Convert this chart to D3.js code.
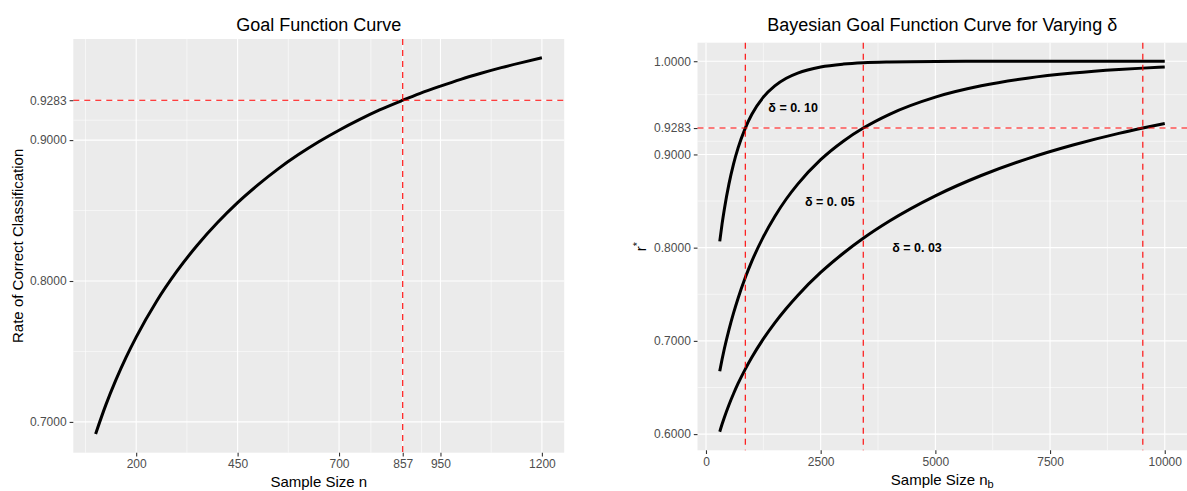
<!DOCTYPE html>
<html>
<head>
<meta charset="utf-8">
<script src="https://cdn.jsdelivr.net/npm/d3@7"></script>
<style>
  body { margin: 0; background: #ffffff; }
  svg { display: block; }
  text { font-family: "Liberation Sans", Arial, Helvetica, sans-serif; }
</style>
</head>
<body>
<svg id="chart" width="1187" height="491"></svg>
<script>
// ---- Goal function curve (rate of correct classification vs. n) ----
const sampleSizes = [100, 125, 150, 175, 200, 250, 300, 350, 400, 450, 500, 550, 600,
                     650, 700, 750, 800, 857, 900, 950, 1000, 1050, 1100, 1150, 1200];
const correctRates = [0.6915, 0.7119, 0.7298, 0.7458, 0.7602, 0.7855, 0.8068, 0.8252,
                      0.8413, 0.8556, 0.8682, 0.8796, 0.8897, 0.8988, 0.9070, 0.9145,
                      0.9214, 0.9283, 0.9332, 0.9383, 0.9431, 0.9474, 0.9514, 0.9550, 0.9584];

// ---- Bayesian goal function curves, one per delta ----
const bayesSizes = [300, 350, 400, 500, 600, 700, 857, 1000, 1250, 1500, 1750, 2000,
                    2500, 3000, 3428, 4000, 5000, 6000, 7000, 8000, 9000, 9522, 10000];
const rDelta10 = [0.8068, 0.8252, 0.8413, 0.8682, 0.8897, 0.9070, 0.9283, 0.9431, 0.9615,
                  0.9736, 0.9818, 0.9873, 0.9938, 0.9969, 0.9983, 0.9992, 0.9998, 0.9999,
                  1.0000, 1.0000, 1.0000, 1.0000, 1.0000];
const rDelta05 = [0.6675, 0.6800, 0.6915, 0.7119, 0.7298, 0.7458, 0.7679, 0.7855, 0.8116,
                  0.8335, 0.8522, 0.8682, 0.8944, 0.9145, 0.9283, 0.9431, 0.9615, 0.9736,
                  0.9818, 0.9873, 0.9911, 0.9926, 0.9938];
const rDelta03 = [0.6025, 0.6105, 0.6179, 0.6313, 0.6433, 0.6543, 0.6697, 0.6824, 0.7021,
                  0.7194, 0.7348, 0.7488, 0.7734, 0.7943, 0.8101, 0.8286, 0.8556, 0.8774,
                  0.8953, 0.9101, 0.9226, 0.9283, 0.9332];

const deltaLabels = ["δ = 0. 10", "δ = 0. 05", "δ = 0. 03"];
const deltaLabelN = [1900, 2700, 4600];
const deltaLabelR = [0.95, 0.85, 0.80];

// Goal rate and the sample sizes that reach it
const goalRate = 0.9283;
const goalN = [857];
const bayesGoalN = [857, 3428, 9522];

// Axis breaks
const leftXTicks = [200, 450, 700, 857, 950, 1200];
const leftXMinor = [75, 325, 575, 778.5, 903.5, 1075];
const leftYTicks = [0.7, 0.8, 0.9, 0.9283];
const leftYMinor = [0.75, 0.85, 0.91415];
const rightXTicks = [0, 2500, 5000, 7500, 10000];
const rightXMinor = [1250, 3750, 6250, 8750];
const rightYTicks = [0.6, 0.7, 0.8, 0.9, 0.9283, 1.0];
const rightYMinor = [0.65, 0.75, 0.85, 0.91415, 0.96415];

const svg = d3.select("#chart");

// continuous range padded by 5% on each side
function expand(values) {
  const [lo, hi] = d3.extent(values);
  const pad = (hi - lo) * 0.05;
  return [lo - pad, hi + pad];
}

function drawPanel(cfg) {
  const { left, right, top, bottom } = cfg.box;
  const x = d3.scaleLinear().domain(expand(cfg.xData)).range([left, right]);
  const y = d3.scaleLinear().domain(expand(cfg.yData)).range([bottom, top]);
  const g = svg.append("g");

  // panel background
  g.append("rect").attr("x", left).attr("y", top)
    .attr("width", right - left).attr("height", bottom - top)
    .attr("fill", "#EBEBEB");

  // grid lines
  const grid = g.append("g").attr("stroke", "#ffffff").attr("fill", "none");
  cfg.yMinor.forEach(v => grid.append("line")
    .attr("x1", left).attr("x2", right).attr("y1", y(v)).attr("y2", y(v))
    .attr("stroke-width", 0.55));
  cfg.xMinor.forEach(v => grid.append("line")
    .attr("y1", top).attr("y2", bottom).attr("x1", x(v)).attr("x2", x(v))
    .attr("stroke-width", 0.55));
  cfg.yTicks.forEach(v => grid.append("line")
    .attr("x1", left).attr("x2", right).attr("y1", y(v)).attr("y2", y(v))
    .attr("stroke-width", 1.1));
  cfg.xTicks.forEach(v => grid.append("line")
    .attr("y1", top).attr("y2", bottom).attr("x1", x(v)).attr("x2", x(v))
    .attr("stroke-width", 1.1));

  // curves
  const line = d3.line()
    .x(d => x(d[0])).y(d => y(d[1]))
    .curve(d3.curveMonotoneX);
  cfg.series.forEach(s => {
    g.append("path")
      .datum(cfg.xData.map((n, i) => [n, s[i]]))
      .attr("d", line)
      .attr("fill", "none")
      .attr("stroke", "#000000")
      .attr("stroke-width", 3)
      .attr("stroke-linejoin", "round");
  });

  // reference lines
  const refs = g.append("g").attr("stroke", "#FF0000").attr("stroke-width", 1.1)
    .attr("stroke-dasharray", "6,5").attr("fill", "none");
  refs.append("line").attr("x1", left).attr("x2", right)
    .attr("y1", y(goalRate)).attr("y2", y(goalRate));
  cfg.vlines.forEach(v => refs.append("line")
    .attr("y1", top).attr("y2", bottom).attr("x1", x(v)).attr("x2", x(v)));

  // text annotations
  (cfg.labels || []).forEach(l => {
    g.append("text")
      .attr("x", x(l.n)).attr("y", y(l.r)).attr("dy", "0.36em")
      .attr("text-anchor", "middle")
      .attr("font-size", 12.5).attr("font-weight", "bold").attr("fill", "#000")
      .text(l.text);
  });

  // axes
  const xAxis = d3.axisBottom(x).tickValues(cfg.xTicks)
    .tickFormat(d => String(d)).tickSizeInner(3.7).tickSizeOuter(0).tickPadding(3);
  const yAxis = d3.axisLeft(y).tickValues(cfg.yTicks)
    .tickFormat(d3.format(".4f")).tickSizeInner(3.7).tickSizeOuter(0).tickPadding(3);

  const ax = g.append("g").attr("transform", `translate(0,${bottom})`).call(xAxis);
  const ay = g.append("g").attr("transform", `translate(${left},0)`).call(yAxis);
  [ax, ay].forEach(a => {
    a.select(".domain").remove();
    a.selectAll(".tick line").attr("stroke", "#333333").attr("stroke-width", 1.1);
    a.selectAll(".tick text").attr("fill", "#4D4D4D").attr("font-size", 12)
      .attr("font-family", '"Liberation Sans", Arial, Helvetica, sans-serif');
  });

  // titles
  const cx = (left + right) / 2;
  svg.append("text").attr("x", cx).attr("y", 30.5)
    .attr("text-anchor", "middle").attr("font-size", 18).attr("fill", "#000")
    .text(cfg.title);

  const xt = svg.append("text").attr("x", cx).attr("y", cfg.xTitleY)
    .attr("text-anchor", "middle").attr("font-size", 15).attr("fill", "#000");
  xt.append("tspan").text(cfg.xTitle);
  if (cfg.xTitleSub) {
    xt.append("tspan").attr("font-size", 11).attr("dy", 3.5).text(cfg.xTitleSub);
  }

  const cy = (top + bottom) / 2;
  const yt = svg.append("text")
    .attr("transform", `translate(${cfg.yTitleX},${cy}) rotate(-90)`)
    .attr("text-anchor", "middle").attr("font-size", 15).attr("fill", "#000");
  yt.append("tspan").text(cfg.yTitle);
  if (cfg.yTitleSup) {
    yt.append("tspan").attr("font-size", 11).attr("dy", -5).text(cfg.yTitleSup);
  }
}

drawPanel({
  box: { left: 73.3, right: 564.2, top: 39, bottom: 452.7 },
  xData: sampleSizes,
  yData: correctRates,
  series: [correctRates],
  xTicks: leftXTicks, xMinor: leftXMinor,
  yTicks: leftYTicks, yMinor: leftYMinor,
  vlines: goalN,
  title: "Goal Function Curve",
  xTitle: "Sample Size n", xTitleY: 486.5,
  yTitle: "Rate of Correct Classification", yTitleX: 23
});

drawPanel({
  box: { left: 697.5, right: 1187, top: 42.7, bottom: 450.3 },
  xData: bayesSizes,
  yData: rDelta10.concat(rDelta05, rDelta03),
  series: [rDelta10, rDelta05, rDelta03],
  xTicks: rightXTicks, xMinor: rightXMinor,
  yTicks: rightYTicks, yMinor: rightYMinor,
  vlines: bayesGoalN,
  labels: deltaLabels.map((t, i) => ({ text: t, n: deltaLabelN[i], r: deltaLabelR[i] })),
  title: "Bayesian Goal Function Curve for Varying δ",
  xTitle: "Sample Size n", xTitleSub: "b", xTitleY: 484.5,
  yTitle: "r", yTitleSup: "*", yTitleX: 645.5
});
</script>
</body>
</html>
